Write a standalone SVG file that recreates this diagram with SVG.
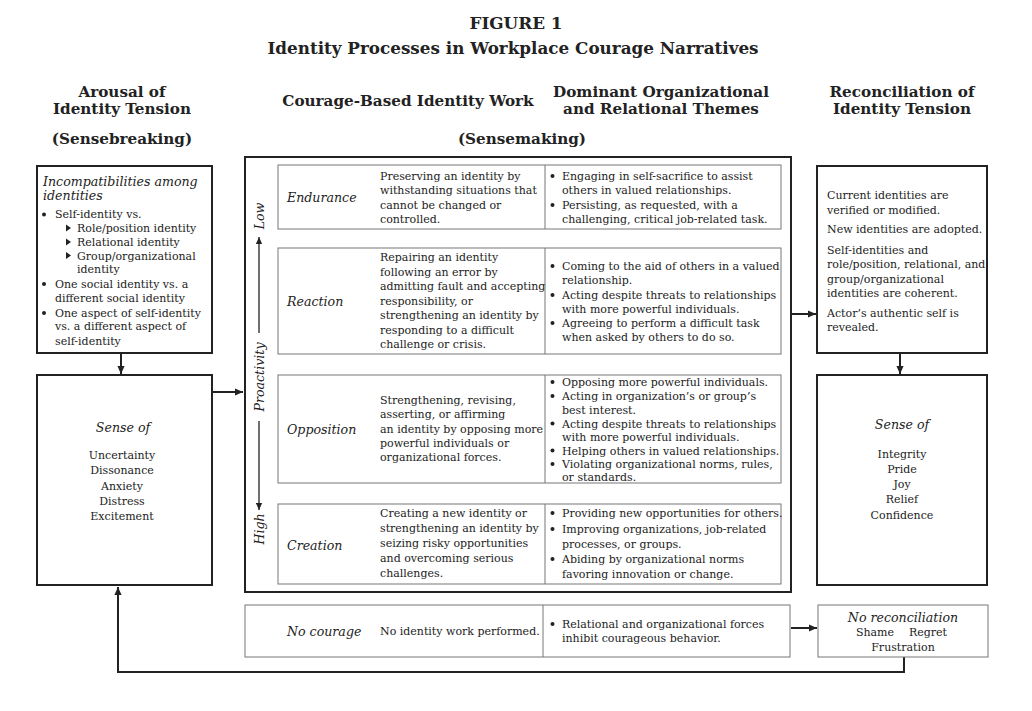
<svg xmlns="http://www.w3.org/2000/svg" width="1032" height="711" viewBox="0 0 1032 711">
<style>
text{font-family:"DejaVu Serif","Liberation Serif",serif;fill:#222;font-size:11px}
.h{font-weight:bold;font-size:15.2px;text-anchor:middle}
.ttl{font-weight:bold;font-size:16.8px;text-anchor:middle}
.i{font-style:italic;font-size:12.6px}
.c{text-anchor:middle}
.box{fill:#fff;stroke:#222;stroke-width:2}
.row{fill:#fff;stroke:#777;stroke-width:1}
.div{stroke:#777;stroke-width:1}
.conn{stroke:#222;stroke-width:2;fill:none}
.ax{stroke:#222;stroke-width:1.3;fill:none}
.b{fill:#222}
</style>
<defs>
<marker id="ah" viewBox="0 0 10 10" refX="10" refY="5" markerWidth="9" markerHeight="8" markerUnits="userSpaceOnUse" orient="auto">
<path d="M0,0.5 L10,5 L0,9.5 z" fill="#222"/>
</marker>
<marker id="ahs" viewBox="0 0 10 10" refX="10" refY="5" markerWidth="8" markerHeight="7" markerUnits="userSpaceOnUse" orient="auto">
<path d="M0,0.5 L10,5 L0,9.5 z" fill="#222"/>
</marker>
</defs>
<rect width="1032" height="711" fill="#fff"/>

<g id="title">
<text class="ttl" x="516" y="29">FIGURE 1</text>
<text class="ttl" x="513" y="54">Identity Processes in Workplace Courage Narratives</text>
</g>

<g id="headers">
<text class="h" x="122" y="97">Arousal of</text>
<text class="h" x="122" y="114">Identity Tension</text>
<text class="h" x="122" y="144">(Sensebreaking)</text>
<text class="h" x="408" y="106">Courage-Based Identity Work</text>
<text class="h" x="661" y="97">Dominant Organizational</text>
<text class="h" x="661" y="114">and Relational Themes</text>
<text class="h" x="522" y="144">(Sensemaking)</text>
<text class="h" x="902" y="97">Reconciliation of</text>
<text class="h" x="902" y="114">Identity Tension</text>
</g>

<g id="connectors">
<line class="conn" x1="121" y1="353" x2="121" y2="374" marker-end="url(#ah)"/>
<line class="conn" x1="213" y1="392" x2="243" y2="392" marker-end="url(#ah)"/>
<line class="conn" x1="792" y1="314" x2="816" y2="314" marker-end="url(#ah)"/>
<line class="conn" x1="900" y1="354" x2="900" y2="374" marker-end="url(#ah)"/>
<line class="conn" x1="791" y1="628" x2="817" y2="628" marker-end="url(#ah)"/>
<path class="conn" d="M904,657 V672 H118 V587" marker-end="url(#ah)"/>
</g>

<g id="incompatibilities">
<rect class="box" x="37" y="166" width="175" height="187"/>
<text class="i" x="43" y="185.5">Incompatibilities among</text>
<text class="i" x="43" y="200">identities</text>
<circle class="b" cx="44" cy="214.5" r="2"/>
<text x="55" y="218">Self-identity vs.</text>
<path class="b" d="M66,224.5 L71,228 L66,231.5 z"/>
<text x="77" y="232">Role/position identity</text>
<path class="b" d="M66,238.5 L71,242 L66,245.5 z"/>
<text x="77" y="246">Relational identity</text>
<path class="b" d="M66,252 L71,255.5 L66,259 z"/>
<text x="77" y="259.5">Group/organizational</text>
<text x="77" y="273">identity</text>
<circle class="b" cx="44" cy="284" r="2"/>
<text x="55" y="287.5">One social identity vs. a</text>
<text x="55" y="301.5">different social identity</text>
<circle class="b" cx="44" cy="313" r="2"/>
<text x="55" y="316.5">One aspect of self-identity</text>
<text x="55" y="330">vs. a different aspect of</text>
<text x="55" y="344.5">self-identity</text>
</g>

<g id="sense-arousal">
<rect class="box" x="37" y="375" width="175" height="210"/>
<text class="i c" x="123" y="432">Sense of</text>
<text class="c" x="122" y="459">Uncertainty</text>
<text class="c" x="122" y="474">Dissonance</text>
<text class="c" x="122" y="490">Anxiety</text>
<text class="c" x="122" y="505">Distress</text>
<text class="c" x="122" y="520">Excitement</text>
</g>

<g id="identity-work">
<rect class="box" x="245" y="157" width="546" height="435"/>
<g id="axis">
<line class="ax" x1="259" y1="333" x2="259" y2="237" marker-end="url(#ahs)"/>
<line class="ax" x1="259" y1="421" x2="259" y2="510" marker-end="url(#ahs)"/>
<text class="i" transform="translate(264,216) rotate(-90)" text-anchor="middle" font-size="13">Low</text>
<text class="i" transform="translate(264,377) rotate(-90)" text-anchor="middle" font-size="13.5">Proactivity</text>
<text class="i" transform="translate(264,529) rotate(-90)" text-anchor="middle" font-size="13">High</text>
</g>
</g>

<g id="endurance">
<rect class="row" x="278" y="165" width="503" height="64"/>
<line class="div" x1="545" y1="165" x2="545" y2="229"/>
<text class="i" x="287" y="202">Endurance</text>
<text x="380" y="180">Preserving an identity by</text>
<text x="380" y="194.3">withstanding situations that</text>
<text x="380" y="208.6">cannot be changed or</text>
<text x="380" y="222.9">controlled.</text>
<circle class="b" cx="552.5" cy="176" r="2"/>
<text x="562" y="180">Engaging in self-sacrifice to assist</text>
<text x="562" y="194.3">others in valued relationships.</text>
<circle class="b" cx="552.5" cy="205" r="2"/>
<text x="562" y="208.6">Persisting, as requested, with a</text>
<text x="562" y="222.9">challenging, critical job-related task.</text>
</g>

<g id="reaction">
<rect class="row" x="278" y="248" width="503" height="106"/>
<line class="div" x1="545" y1="248" x2="545" y2="354"/>
<text class="i" x="287" y="306">Reaction</text>
<text x="380" y="261">Repairing an identity</text>
<text x="380" y="275.5">following an error by</text>
<text x="380" y="290">admitting fault and accepting</text>
<text x="380" y="304.5">responsibility, or</text>
<text x="380" y="319">strengthening an identity by</text>
<text x="380" y="333.5">responding to a difficult</text>
<text x="380" y="348">challenge or crisis.</text>
<circle class="b" cx="552.5" cy="266" r="2"/>
<text x="562" y="270">Coming to the aid of others in a valued</text>
<text x="562" y="284">relationship.</text>
<circle class="b" cx="552.5" cy="295" r="2"/>
<text x="562" y="299">Acting despite threats to relationships</text>
<text x="562" y="313">with more powerful individuals.</text>
<circle class="b" cx="552.5" cy="323" r="2"/>
<text x="562" y="327">Agreeing to perform a difficult task</text>
<text x="562" y="341">when asked by others to do so.</text>
</g>

<g id="opposition">
<rect class="row" x="278" y="375" width="503" height="108"/>
<line class="div" x1="545" y1="375" x2="545" y2="483"/>
<text class="i" x="287" y="434">Opposition</text>
<text x="380" y="404">Strengthening, revising,</text>
<text x="380" y="418">asserting, or affirming</text>
<text x="380" y="433">an identity by opposing more</text>
<text x="380" y="447">powerful individuals or</text>
<text x="380" y="461">organizational forces.</text>
<circle class="b" cx="552.5" cy="382" r="2"/>
<text x="562" y="386">Opposing more powerful individuals.</text>
<circle class="b" cx="552.5" cy="396" r="2"/>
<text x="562" y="400">Acting in organization’s or group’s</text>
<text x="562" y="413.5">best interest.</text>
<circle class="b" cx="552.5" cy="423.5" r="2"/>
<text x="562" y="427.5">Acting despite threats to relationships</text>
<text x="562" y="441">with more powerful individuals.</text>
<circle class="b" cx="552.5" cy="450.5" r="2"/>
<text x="562" y="454.5">Helping others in valued relationships.</text>
<circle class="b" cx="552.5" cy="464" r="2"/>
<text x="562" y="468">Violating organizational norms, rules,</text>
<text x="562" y="481">or standards.</text>
</g>

<g id="creation">
<rect class="row" x="278" y="504" width="503" height="80"/>
<line class="div" x1="545" y1="504" x2="545" y2="584"/>
<text class="i" x="287" y="550">Creation</text>
<text x="380" y="517">Creating a new identity or</text>
<text x="380" y="532">strengthening an identity by</text>
<text x="380" y="547">seizing risky opportunities</text>
<text x="380" y="562">and overcoming serious</text>
<text x="380" y="577">challenges.</text>
<circle class="b" cx="552.5" cy="513" r="2"/>
<text x="562" y="517">Providing new opportunities for others.</text>
<circle class="b" cx="552.5" cy="529" r="2"/>
<text x="562" y="533">Improving organizations, job-related</text>
<text x="562" y="548">processes, or groups.</text>
<circle class="b" cx="552.5" cy="559" r="2"/>
<text x="562" y="563">Abiding by organizational norms</text>
<text x="562" y="578">favoring innovation or change.</text>
</g>

<g id="no-courage">
<rect class="row" x="245" y="605" width="545" height="52"/>
<line class="div" x1="543" y1="605" x2="543" y2="657"/>
<text class="i" x="287" y="636">No courage</text>
<text x="380" y="635">No identity work performed.</text>
<circle class="b" cx="552.5" cy="624" r="2"/>
<text x="562" y="628">Relational and organizational forces</text>
<text x="562" y="642">inhibit courageous behavior.</text>
</g>

<g id="reconciliation">
<rect class="box" x="817" y="166" width="170" height="187"/>
<text x="827" y="199">Current identities are</text>
<text x="827" y="214">verified or modified.</text>
<text x="827" y="233">New identities are adopted.</text>
<text x="827" y="254">Self-identities and</text>
<text x="827" y="268">role/position, relational, and</text>
<text x="827" y="283">group/organizational</text>
<text x="827" y="297">identities are coherent.</text>
<text x="827" y="317">Actor’s authentic self is</text>
<text x="827" y="331">revealed.</text>
</g>

<g id="sense-reconciliation">
<rect class="box" x="817" y="375" width="170" height="210"/>
<text class="i c" x="902" y="429">Sense of</text>
<text class="c" x="902" y="458">Integrity</text>
<text class="c" x="902" y="473">Pride</text>
<text class="c" x="902" y="488">Joy</text>
<text class="c" x="902" y="503">Relief</text>
<text class="c" x="902" y="519">Confidence</text>
</g>

<g id="no-reconciliation">
<rect class="row" x="818" y="605" width="170" height="52"/>
<text class="i c" x="903" y="622">No reconciliation</text>
<text class="c" x="875" y="636">Shame</text>
<text class="c" x="928" y="636">Regret</text>
<text class="c" x="903" y="651">Frustration</text>
</g>
</svg>
